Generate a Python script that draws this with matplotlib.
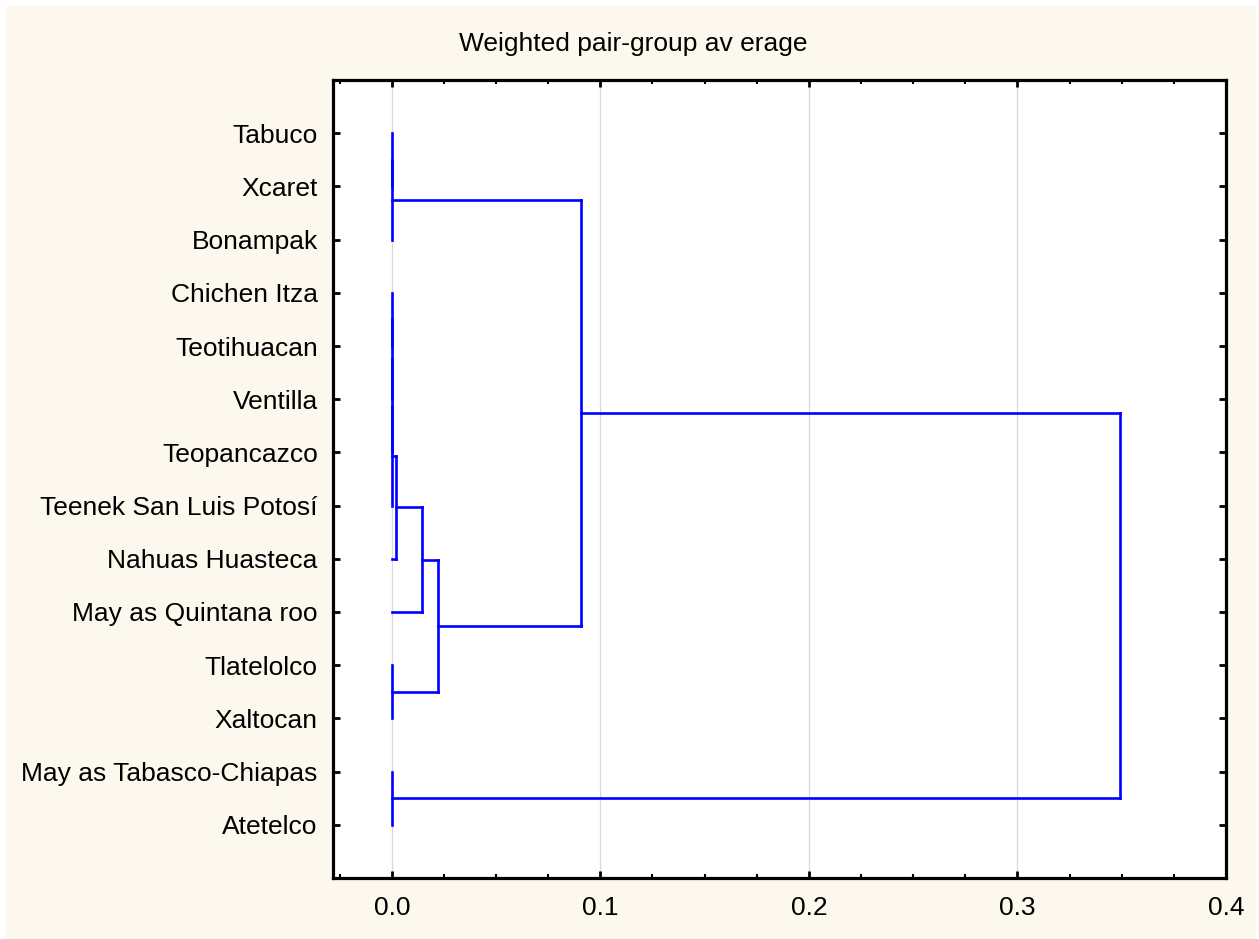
import matplotlib.pyplot as plt
from matplotlib.patches import Rectangle
from matplotlib.ticker import MultipleLocator

plt.rcParams['font.family'] = ['Liberation Sans', 'DejaVu Sans']

# leaves top to bottom
leaves = ['Tabuco', 'Xcaret', 'Bonampak', 'Chichen Itza', 'Teotihuacan',
          'Ventilla', 'Teopancazco', 'Teenek San Luis Potosí', 'Nahuas Huasteca',
          'May as Quintana roo', 'Tlatelolco', 'Xaltocan',
          'May as Tabasco-Chiapas', 'Atetelco']

# merge steps: (node a, node b, linkage distance); new nodes get ids 14, 15, ...
merge_a = [0, 14, 3, 16, 17, 18, 19, 20, 10, 21, 15, 12, 24]
merge_b = [1, 2, 4, 5, 6, 7, 8, 9, 11, 22, 23, 13, 25]
merge_h = [0.0, 0.0, 0.0, 0.0, 0.0, 0.0, 0.0020, 0.0144, 0.0, 0.0220, 0.0905, 0.0, 0.3490]

W, H = 1259, 939
fig = plt.figure(figsize=(W / 100, H / 100), dpi=100)
fig.patch.set_facecolor('white')
fig.patches.append(Rectangle((6 / W, 0), (W - 9) / W, (H - 6) / H,
                             transform=fig.transFigure, facecolor='#FDF8ED',
                             edgecolor='none', zorder=-10))

ax = fig.add_axes([333 / W, 1 - 878 / H, (1226 - 333) / W, (878 - 80) / H])
ax.set_facecolor('white')

pos = {i: i + 1 for i in range(len(leaves))}
hgt = {i: 0.0 for i in range(len(leaves))}
blue = '#0000FF'
for k, (a, b, h) in enumerate(zip(merge_a, merge_b, merge_h)):
    node = len(leaves) + k
    for c in (a, b):
        ax.plot([hgt[c], h], [pos[c], pos[c]], color=blue, lw=1.9,
                solid_capstyle='projecting', zorder=3)
    ax.plot([h, h], [pos[a], pos[b]], color=blue, lw=1.9,
            solid_capstyle='projecting', zorder=3)
    pos[node] = (pos[a] + pos[b]) / 2
    hgt[node] = h

ax.set_xlim(-0.0282, 0.4)
ax.set_ylim(len(leaves) + 1, 0)
ax.xaxis.set_major_locator(MultipleLocator(0.1))
ax.xaxis.set_minor_locator(MultipleLocator(0.025))
ax.xaxis.set_major_formatter(plt.FuncFormatter(lambda v, p: f'{v:.1f}'))
ax.set_yticks(range(1, len(leaves) + 1))
ax.set_yticklabels(leaves)

ax.grid(axis='x', which='major', color='#D8D8D8', lw=0.9, zorder=0)
ax.set_axisbelow(True)

for s in ax.spines.values():
    s.set_linewidth(2.3)
    s.set_color('black')

ax.tick_params(axis='both', which='major', direction='in', length=5, width=2,
               top=True, right=True, labelsize=19, colors='black')
ax.tick_params(axis='x', which='minor', direction='in', length=3, width=1.5,
               top=True, bottom=True)
ax.tick_params(axis='x', which='major', pad=13)
ax.tick_params(axis='y', which='major', pad=11)

fig.text(633 / W, 1 - 44 / H, 'Weighted pair-group av erage', ha='center',
         va='center', fontsize=19, color='black')

fig.savefig('out.png', dpi=100, facecolor=fig.get_facecolor())
